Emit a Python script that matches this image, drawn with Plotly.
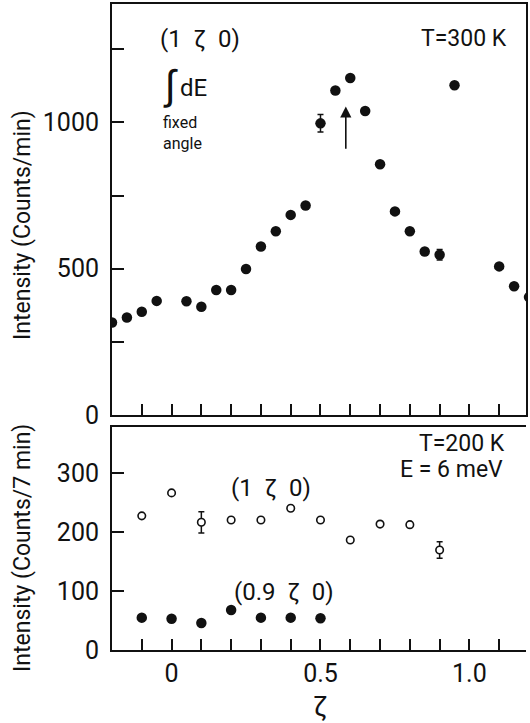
import plotly.graph_objects as go

# ---- data: top panel, T=300K, (1 zeta 0), integrated intensity ----
zeta_300 = [-0.2, -0.15, -0.1, -0.05, 0.05, 0.1, 0.15, 0.2, 0.25, 0.3, 0.35, 0.4, 0.45,
            0.5, 0.55, 0.6, 0.65, 0.7, 0.75, 0.8, 0.85, 0.9, 0.95, 1.1, 1.15, 1.2]
counts_300 = [316, 333, 353, 390, 389, 370, 427, 427, 499, 576, 628, 684, 716,
              997, 1109, 1152, 1039, 857, 696, 628, 559, 548, 1127, 508, 440, 403]
err_300 = [None] * 13 + [30] + [None] * 7 + [18] + [None] * 4

# ---- data: bottom panel, T=200K, E=6 meV ----
zeta_1 = [-0.1, 0.0, 0.1, 0.2, 0.3, 0.4, 0.5, 0.6, 0.7, 0.8, 0.9]
counts_1 = [228, 267, 217, 221, 221, 241, 221, 187, 214, 213, 170]
err_1 = [None, None, 18, None, None, None, None, None, None, None, 14]

zeta_09 = [-0.1, 0.0, 0.1, 0.2, 0.3, 0.4, 0.5]
counts_09 = [55, 53, 46, 68, 55, 55, 54]

x_tickvals = [-0.1, 0.0, 0.1, 0.2, 0.3, 0.4, 0.5, 0.6, 0.7, 0.8, 0.9, 1.0, 1.1]
x_ticktext = ["", "0", "", "", "", "", "0.5", "", "", "", "", "1.0", ""]
y1_tickvals = [0, 250, 500, 750, 1000, 1250]
y1_ticktext = ["0", "", "500", "", "1000", ""]
y2_tickvals = [0, 100, 200, 300]
y2_ticktext = ["0", "100", "200", "300"]

FONT = "Roboto, Open Sans, sans-serif"
BLACK = "#111111"

fig = go.Figure()

fig.add_trace(go.Scatter(
    x=zeta_300, y=counts_300, mode="markers",
    marker=dict(size=10.5, color=BLACK),
    error_y=dict(type="data", array=err_300, visible=True, color=BLACK, thickness=1.5, width=3),
    xaxis="x", yaxis="y", showlegend=False))

fig.add_trace(go.Scatter(
    x=zeta_1, y=counts_1, mode="markers",
    marker=dict(size=7.5, color="white", line=dict(color=BLACK, width=1.6)),
    error_y=dict(type="data", array=err_1, visible=True, color=BLACK, thickness=1.5, width=3),
    xaxis="x2", yaxis="y2", showlegend=False))

fig.add_trace(go.Scatter(
    x=zeta_09, y=counts_09, mode="markers",
    marker=dict(size=10.5, color=BLACK),
    xaxis="x2", yaxis="y2", showlegend=False))

axis_common = dict(showgrid=False, zeroline=False, showline=True, linecolor=BLACK,
                   linewidth=2, ticks="inside", tickcolor=BLACK, tickwidth=1.5,
                   tickfont=dict(family=FONT, size=25, color=BLACK))

X_RANGE = [-0.2, 1.19]

fig.update_layout(
    width=530, height=723,
    margin=dict(l=112, r=2, t=4, b=73),
    paper_bgcolor="white", plot_bgcolor="white",
    font=dict(family=FONT, color=BLACK),
    xaxis=dict(**axis_common, range=X_RANGE, anchor="y", domain=[0, 1],
               tickvals=x_tickvals, ticktext=[""] * len(x_tickvals), ticklen=11,
               mirror=True, matches="x2"),
    yaxis=dict(**axis_common, range=[0, 1405], domain=[0.3638, 1.0], anchor="x",
               tickvals=y1_tickvals, ticktext=y1_ticktext, ticklen=12, mirror=True,
               ticklabelstandoff=6),
    xaxis2=dict(**axis_common, range=X_RANGE, anchor="y2", domain=[0, 1],
                tickvals=x_tickvals, ticktext=x_ticktext, ticklen=11, mirror=True,
                ticklabelstandoff=0),
    yaxis2=dict(**axis_common, range=[0, 379], domain=[0.0, 0.3452], anchor="x2",
                tickvals=y2_tickvals, ticktext=y2_ticktext, ticklen=12,
                ticklabelstandoff=6),
)

ann = []
def txt(text, x, y, xref="x", yref="y", size=22, xanchor="center", yanchor="middle", **kw):
    ann.append(dict(text=text, x=x, y=y, xref=xref, yref=yref, showarrow=False,
                    xanchor=xanchor, yanchor=yanchor,
                    font=dict(family=FONT, size=size, color=BLACK), **kw))

# top panel labels
txt("(1  ζ  0)", 0.094, 1286, size=24)
txt("T=300 K", 1.132, 1286, size=23, xanchor="right")
txt("∫", -0.005, 1128, size=40)
txt("dE", 0.022, 1118, size=24, xanchor="left")
txt("fixed<br>angle", -0.036, 1038, size=16, xanchor="left", yanchor="top", align="left")
# arrow
ann.append(dict(x=0.585, y=1055, ax=0.585, ay=905, xref="x", yref="y", axref="x", ayref="y",
                showarrow=True, arrowhead=2, arrowsize=1.4, arrowwidth=1.6,
                arrowcolor=BLACK, text=""))

# bottom panel labels
txt("T=200 K", 1.125, 351, xref="x2", yref="y2", size=23, xanchor="right")
txt("E = 6 meV", 1.120, 307, xref="x2", yref="y2", size=23, xanchor="right")
txt("(1  ζ  0)", 0.335, 275, xref="x2", yref="y2", size=24)
txt("(0.9  ζ  0)", 0.378, 98, xref="x2", yref="y2", size=24)

# axis titles
txt("Intensity (Counts/min)", -0.215, 0.658, xref="paper", yref="paper", size=23, textangle=-90)
txt("Intensity (Counts/7 min)", -0.215, 0.158, xref="paper", yref="paper", size=23, textangle=-90)
txt("ζ", 0.5, -0.088, xref="x2", yref="paper", size=28)

fig.update_layout(annotations=ann)

fig.write_html("out.html")
